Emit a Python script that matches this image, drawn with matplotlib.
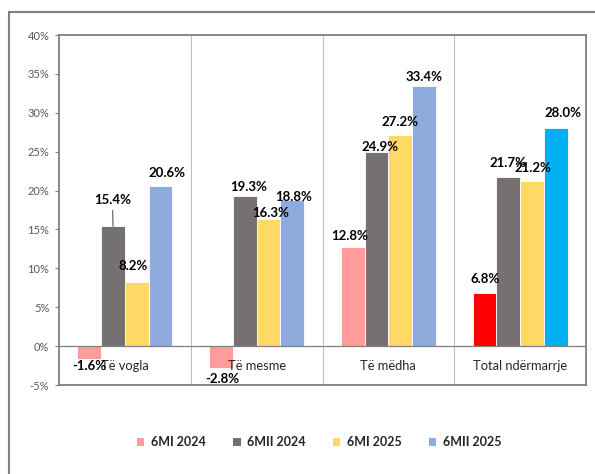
import matplotlib
matplotlib.use("Agg")
import matplotlib.pyplot as plt
from matplotlib.patches import Rectangle, Patch
import numpy as np

plt.rcParams['font.family'] = ['Lato', 'DejaVu Sans']

categories = ["Të vogla", "Të mesme", "Të mëdha", "Total ndërmarrje"]
series_names = ["6MI 2024", "6MII 2024", "6MI 2025", "6MII 2025"]
v_6MI_2024 = [-1.6, -2.8, 12.8, 6.8]
v_6MII_2024 = [15.4, 19.3, 24.9, 21.7]
v_6MI_2025 = [8.2, 16.3, 27.2, 21.2]
v_6MII_2025 = [20.6, 18.8, 33.4, 28.0]
series_values = [v_6MI_2024, v_6MII_2024, v_6MI_2025, v_6MII_2025]
yticks = [-5, 0, 5, 10, 15, 20, 25, 30, 35, 40]

colors = ["#FF9B9B", "#767171", "#FFD966", "#8FAADC"]
total_colors = ["#FF0000", "#767171", "#FFD966", "#00B0F0"]

# label offsets in pixels (dx, dy up) relative to bar end, per series x category
label_dx = [[0, 1, -3, 1], [-0.5, 4, 3, 0], [-3.5, 2, 0, 1], [6.5, 1, 0, 7]]
label_dy = [[-7.6, -11.2, 10.4, 14.1], [26.2, 8.8, 5.3, 14.2], [16.2, 6.2, 12.4, 13.1], [12.7, 2.7, 9.1, 15.2]]

W, H = 595, 474
dpi = 100
fig = plt.figure(figsize=(W / dpi, H / dpi), dpi=dpi)
ax = fig.add_axes([59 / W, 1 - 385 / H, (586 - 59) / W, (385 - 35) / H])

# outer frame (clipped at right/bottom)
fig.patches.append(Rectangle((9 / W, -0.1), 1.2, (474 - 12) / H + 0.1, transform=fig.transFigure,
                             fill=False, edgecolor="#808080", linewidth=1.5))

n = len(series_values)
width = 0.18
x = np.arange(len(categories))
px2pt = 72 / dpi
for i, vals in enumerate(series_values):
    offs = (i - (n - 1) / 2) * width
    cols = [colors[i]] * (len(categories) - 1) + [total_colors[i]]
    ax.bar(x + offs, vals, width=width, color=cols, edgecolor="white", linewidth=0.6, zorder=3)
    for j, v in enumerate(vals):
        dx = label_dx[i][j] * px2pt
        dy = label_dy[i][j] * px2pt
        arrow = None
        if i == 1 and j == 0:
            arrow = dict(arrowstyle="-", color="#404040", lw=0.7, shrinkA=1, shrinkB=0)
        ax.annotate(f"{v:.1f}%", xy=(x[j] + offs, v), xytext=(dx, dy), textcoords="offset points",
                    ha="center", va="center", fontsize=9.5, fontweight="bold", color="black",
                    arrowprops=arrow, zorder=5)

ax.set_xlim(-0.5, len(categories) - 0.5)
ax.set_ylim(yticks[0], yticks[-1])
ax.set_yticks(yticks)
ax.set_yticklabels([f"{t}%" for t in yticks], fontsize=8, color="#595959")
ax.tick_params(axis="y", length=3, width=0.8, color="#808080", pad=4)
ax.set_xticks([])

for k in range(1, len(categories)):
    ax.axvline(k - 0.5, color="#BFBFBF", lw=0.8, zorder=1)
ax.axhline(0, color="#808080", lw=0.9, zorder=4)
for s in ax.spines.values():
    s.set_color("#808080")
    s.set_linewidth(1.3)

for j, c in enumerate(categories):
    ax.text(x[j], -2.55, c, ha="center", va="center", fontsize=9.3, color="#262626", zorder=4)

handles = [Patch(facecolor=colors[i], edgecolor="none", label=series_names[i]) for i in range(n)]
fig.legend(handles=handles, loc="center", bbox_to_anchor=(319 / W, 1 - 442 / H), ncol=4, frameon=False,
           prop=dict(weight="bold", size=9), handlelength=0.6, handleheight=0.6, handletextpad=0.5,
           columnspacing=2.2, labelcolor="#262626")

fig.savefig("out.png", dpi=dpi)
